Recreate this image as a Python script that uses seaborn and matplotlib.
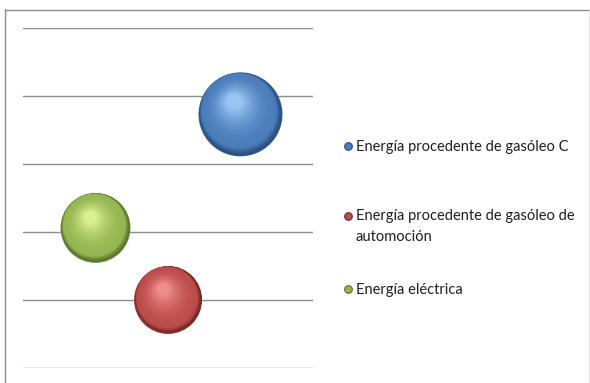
import numpy as np
import pandas as pd
import matplotlib
matplotlib.use("Agg")
import matplotlib.pyplot as plt
import matplotlib.transforms as mtransforms
from matplotlib.colors import to_rgb, to_hex
from matplotlib.lines import Line2D
import seaborn as sns

# ---- data -------------------------------------------------------------
series = ["Energía procedente de gasóleo C",
          "Energía procedente de gasóleo de automoción",
          "Energía eléctrica"]
x_vals = [3.0, 2.0, 1.0]
y_vals = [3.73, 1.0, 2.06]
bubble_sizes = [7.06, 4.62, 4.90]
legend_labels = ["Energía procedente de gasóleo C",
                 "Energía procedente de gasóleo de\nautomoción",
                 "Energía eléctrica"]

# ---- style ------------------------------------------------------------
base_colors = ["#4A7DBA", "#BD4D4A", "#95B653"]
dark_colors = ["#2A4F7F", "#72282A", "#56702A"]
light_colors = ["#9CC8F5", "#F0908E", "#DCF294"]
rim_colors = [to_hex((np.array(to_rgb(d)) + np.array(to_rgb(b))) / 2)
              for d, b in zip(dark_colors, base_colors)]

df = pd.DataFrame({"x": x_vals, "y": y_vals, "size": bubble_sizes,
                   "series": series})

W, H, DPI = 590, 383, 100
sns.set_theme(style="white")
plt.rcParams["font.family"] = ["Lato", "DejaVu Sans"]

fig = plt.figure(figsize=(W / DPI, H / DPI), dpi=DPI)
fig.patch.set_facecolor("white")
ax = fig.add_axes([23 / W, 15 / H, 290 / W, 340 / H])

SMAX = 3658
sns.scatterplot(data=df, x="x", y="y", hue="series", size="size",
                palette=dict(zip(series, rim_colors)),
                sizes=(0, SMAX), size_norm=(0, max(bubble_sizes)),
                linewidth=0, legend=False, ax=ax, zorder=3)

ax.set_xlim(0, 4)
ax.set_ylim(0, 5)
ax.set_yticks(range(6))
ax.set_xticks([])
ax.tick_params(left=False, bottom=False, labelleft=False, labelbottom=False)
ax.set_xlabel("")
ax.set_ylabel("")
for sp in ax.spines.values():
    sp.set_visible(False)
ax.grid(axis="y", color="#8E8E8E", linewidth=1.0)
ax.set_axisbelow(True)

T_RIM = 0.12


def light_offset(t):
    """Shift (as a fraction of the radius) of each shading disc."""
    if t < T_RIM:
        return 0.02 + 0.8 * t
    return 0.02 + 0.8 * T_RIM + 0.25 * (t - T_RIM) / (1 - T_RIM)


# ---- spherical shading: nested, shifted discs ------------------------
mapped = ax.collections[0].get_sizes()
n_layers = 64
for i, row in df.iterrows():
    s0 = mapped[i] if len(mapped) > 1 else mapped[0]
    R = np.sqrt(s0) / 2 * DPI / 72  # radius in pixels
    dark = np.array(to_rgb(dark_colors[i]))
    base = np.array(to_rgb(base_colors[i]))
    light = np.array(to_rgb(light_colors[i]))
    for k in range(n_layers):
        t = k / n_layers
        if t < T_RIM:
            u = t / T_RIM
            u = u * u * (3 - 2 * u)
            col = dark + (base - dark) * u
        else:
            u = ((t - T_RIM) / (1 - T_RIM)) ** 1.9
            col = base + (light - base) * u
        frac = 0.98 - 0.82 * t
        off = light_offset(t)
        tr = mtransforms.offset_copy(ax.transData, fig=fig,
                                     x=-0.45 * off * R, y=0.89 * off * R,
                                     units="dots")
        ax.scatter([row["x"]], [row["y"]], s=s0 * frac ** 2,
                   color=[col], linewidth=0, transform=tr, zorder=3 + t)

# ---- legend (evenly spaced entries, marker beside the first line) ------
px = mtransforms.Affine2D().scale(1 / W, -1 / H).translate(0, 1) + fig.transFigure
first_baselines = [151, 221, 294]
line_step = 20
for i, lab in enumerate(legend_labels):
    yb = first_baselines[i]
    n_lines = lab.count("\n") + 1
    fig.add_artist(Line2D([348], [yb - 5], transform=px, linestyle="none",
                          marker="o", markersize=5.5,
                          markerfacecolor=base_colors[i],
                          markeredgecolor=dark_colors[i],
                          markeredgewidth=0.8))
    fig.text(356, yb + (n_lines - 1) * line_step, lab, transform=px,
             fontsize=10.55, color="#1E1E1E", ha="left", va="baseline",
             linespacing=1.62)

# ---- outer frame ------------------------------------------------------
fig.add_artist(Line2D([4.5 / W, 4.5 / W], [0, 1 - 9 / H],
                      transform=fig.transFigure, color="#8A8A8A", lw=1))
fig.add_artist(Line2D([4.5 / W, 1], [1 - 9.5 / H, 1 - 9.5 / H],
                      transform=fig.transFigure, color="#8A8A8A", lw=1))
fig.add_artist(Line2D([588.5 / W, 588.5 / W], [0, 1 - 9 / H],
                      transform=fig.transFigure, color="#E4E4E4", lw=1))

fig.savefig("out.png", dpi=DPI, facecolor="white")
